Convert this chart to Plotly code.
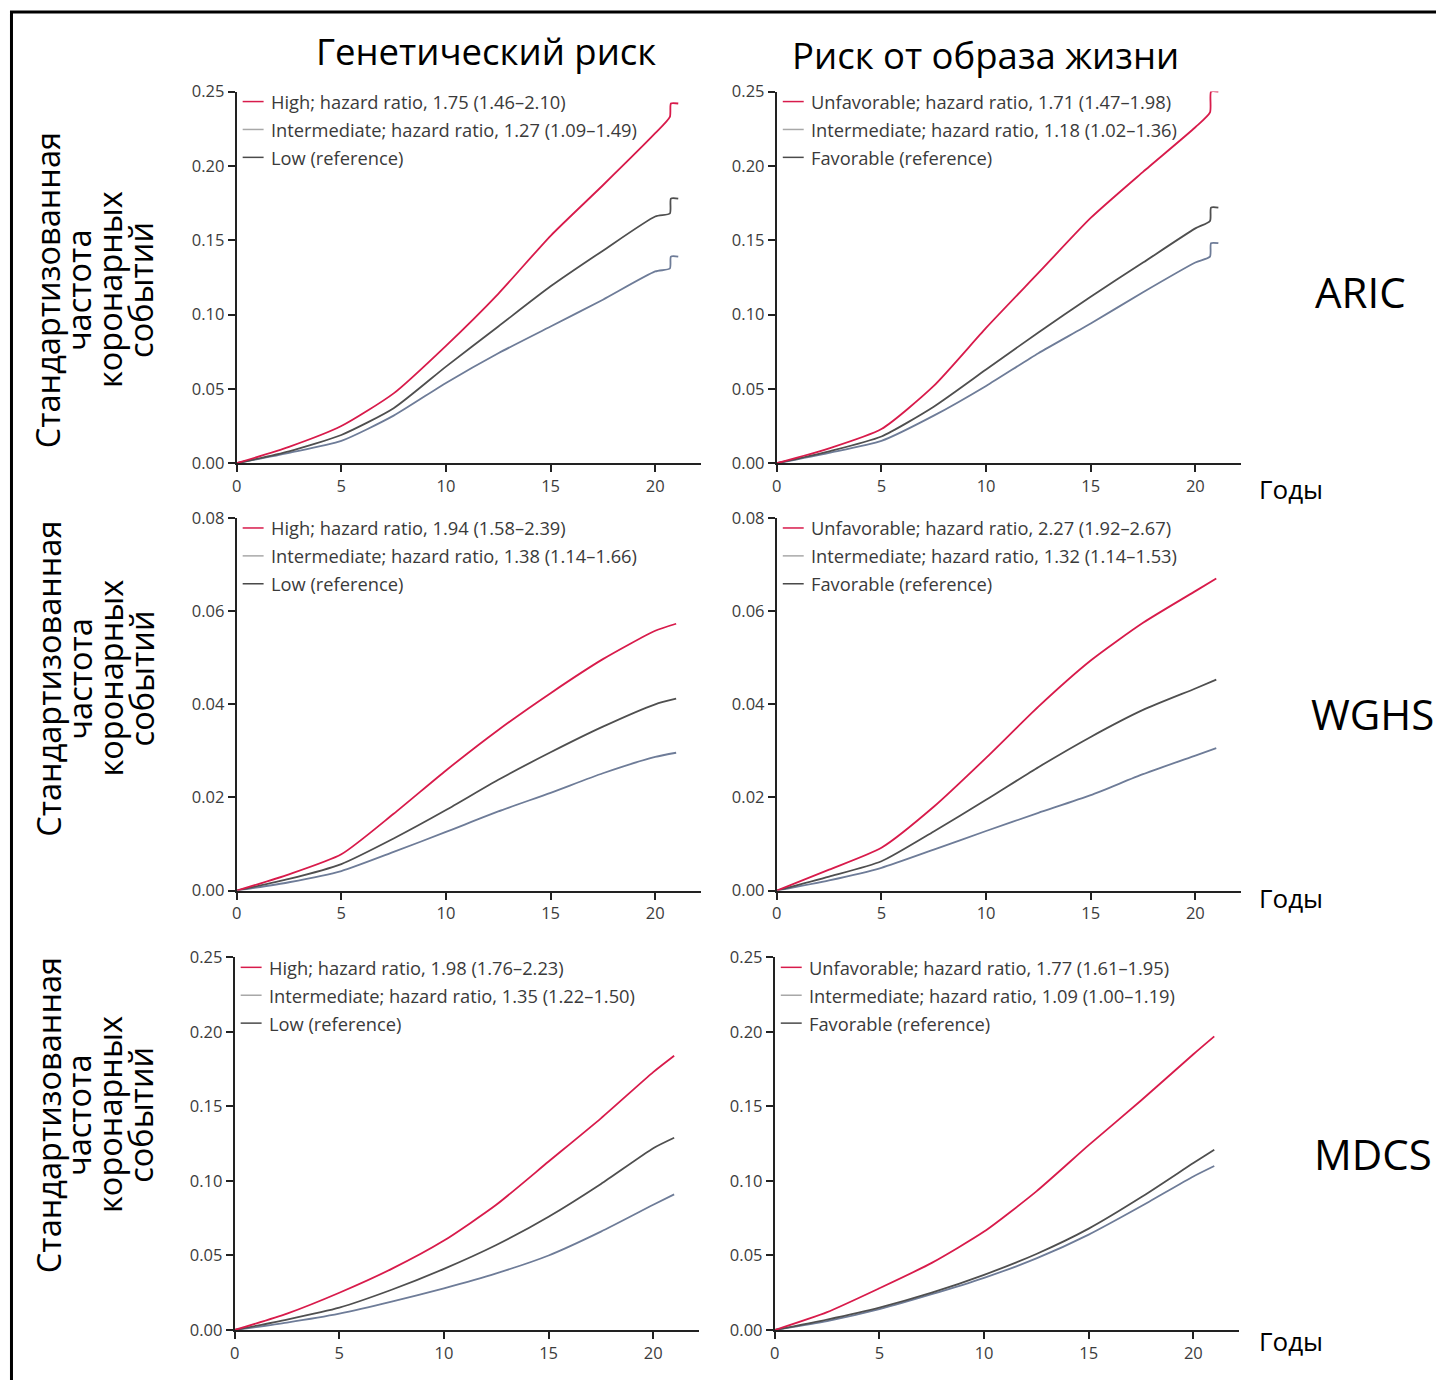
import plotly.graph_objects as go

# ---------------- DATA ----------------
T_MAIN = [0, 2.5, 5, 7.5, 10, 12.5, 15, 17.5, 20, 21]
T_ARIC = [0, 2.5, 5, 7.5, 10, 12.5, 15, 17.5, 20, 20.7, 20.75, 21.1]

# ARIC - genetic risk
aric_gen_high = [0, 0.011, 0.025, 0.047, 0.079, 0.114, 0.153, 0.187, 0.222, 0.233, 0.242, 0.242]
aric_gen_int = [0, 0.008, 0.019, 0.037, 0.065, 0.092, 0.119, 0.143, 0.166, 0.168, 0.178, 0.178]
aric_gen_low = [0, 0.007, 0.015, 0.032, 0.054, 0.074, 0.092, 0.110, 0.129, 0.131, 0.139, 0.139]
# ARIC - lifestyle
aric_life_unf = [0, 0.010, 0.023, 0.052, 0.091, 0.128, 0.165, 0.196, 0.226, 0.236, 0.250, 0.250]
aric_life_int = [0, 0.008, 0.018, 0.038, 0.063, 0.088, 0.112, 0.135, 0.158, 0.163, 0.172, 0.172]
aric_life_fav = [0, 0.007, 0.015, 0.032, 0.052, 0.074, 0.094, 0.115, 0.135, 0.139, 0.148, 0.148]
# WGHS - genetic risk
wghs_gen_high = [0, 0.0035, 0.0078, 0.0165, 0.0258, 0.0345, 0.0424, 0.0497, 0.0558, 0.0573]
wghs_gen_int = [0, 0.0025, 0.0057, 0.0112, 0.0173, 0.0238, 0.0297, 0.0352, 0.0400, 0.0412]
wghs_gen_low = [0, 0.0018, 0.0042, 0.0083, 0.0126, 0.0170, 0.0210, 0.0252, 0.0287, 0.0296]
# WGHS - lifestyle
wghs_life_unf = [0, 0.0045, 0.0092, 0.0180, 0.0285, 0.0395, 0.0494, 0.0575, 0.0643, 0.0670]
wghs_life_int = [0, 0.0030, 0.0063, 0.0127, 0.0195, 0.0265, 0.0330, 0.0388, 0.0434, 0.0453]
wghs_life_fav = [0, 0.0022, 0.0049, 0.0088, 0.0128, 0.0167, 0.0205, 0.0250, 0.0290, 0.0306]
# MDCS - genetic risk
mdcs_gen_high = [0, 0.011, 0.025, 0.041, 0.060, 0.084, 0.113, 0.142, 0.173, 0.184]
mdcs_gen_int = [0, 0.007, 0.015, 0.027, 0.041, 0.057, 0.076, 0.098, 0.122, 0.129]
mdcs_gen_low = [0, 0.005, 0.011, 0.019, 0.028, 0.038, 0.050, 0.066, 0.084, 0.091]
# MDCS - lifestyle
mdcs_life_unf = [0, 0.012, 0.028, 0.045, 0.066, 0.093, 0.124, 0.154, 0.185, 0.197]
mdcs_life_int = [0, 0.007, 0.015, 0.025, 0.037, 0.051, 0.068, 0.089, 0.112, 0.121]
mdcs_life_fav = [0, 0.006, 0.014, 0.024, 0.035, 0.048, 0.064, 0.083, 0.103, 0.110]

legend_gen_aric = ["High; hazard ratio, 1.75 (1.46–2.10)", "Intermediate; hazard ratio, 1.27 (1.09–1.49)", "Low (reference)"]
legend_life_aric = ["Unfavorable; hazard ratio, 1.71 (1.47–1.98)", "Intermediate; hazard ratio, 1.18 (1.02–1.36)", "Favorable (reference)"]
legend_gen_wghs = ["High; hazard ratio, 1.94 (1.58–2.39)", "Intermediate; hazard ratio, 1.38 (1.14–1.66)", "Low (reference)"]
legend_life_wghs = ["Unfavorable; hazard ratio, 2.27 (1.92–2.67)", "Intermediate; hazard ratio, 1.32 (1.14–1.53)", "Favorable (reference)"]
legend_gen_mdcs = ["High; hazard ratio, 1.98 (1.76–2.23)", "Intermediate; hazard ratio, 1.35 (1.22–1.50)", "Low (reference)"]
legend_life_mdcs = ["Unfavorable; hazard ratio, 1.77 (1.61–1.95)", "Intermediate; hazard ratio, 1.09 (1.00–1.19)", "Favorable (reference)"]

y_ticks_025 = [0, 0.05, 0.10, 0.15, 0.20, 0.25]
y_ticks_008 = [0, 0.02, 0.04, 0.06, 0.08]
x_ticks = [0, 5, 10, 15, 20]

col_titles = ["Генетический риск", "Риск от образа жизни"]
row_labels = ["ARIC", "WGHS", "MDCS"]
y_label_lines = ["Стандартизованная", "частота", "коронарных", "событий"]
x_label = "Годы"

# ---------------- LAYOUT ----------------
W, H = 1436, 1380
RED, INT, LOW = "#d81b4b", "#4f4f4f", "#6e7c98"
LEG_COLS = [RED, "#a8a8a8", "#4a4a4a"]
TICKFONT = dict(family="Open Sans", size=16.5, color="#3c3c3c")
LEGFONT = dict(family="Open Sans", size=18.3, color="#3a3a3a")

# pixel positions are given in target-picture pixels; compensate the capture offset
OFF_X, OFF_Y, SCALE_Y = 2.5, 9.1, 0.987


def px(x):
    return (x - OFF_X) / W


def py(y):
    return 1 - ((y - OFF_Y) / SCALE_Y) / H


panels = [
    (235, 462, 89, 0.25, y_ticks_025, T_ARIC, [aric_gen_high, aric_gen_int, aric_gen_low], legend_gen_aric),
    (777, 462, 89, 0.25, y_ticks_025, T_ARIC, [aric_life_unf, aric_life_int, aric_life_fav], legend_life_aric),
    (235, 891, 517, 0.08, y_ticks_008, T_MAIN, [wghs_gen_high, wghs_gen_int, wghs_gen_low], legend_gen_wghs),
    (777, 891, 517, 0.08, y_ticks_008, T_MAIN, [wghs_life_unf, wghs_life_int, wghs_life_fav], legend_life_wghs),
    (233, 1332, 958, 0.25, y_ticks_025, T_MAIN, [mdcs_gen_high, mdcs_gen_int, mdcs_gen_low], legend_gen_mdcs),
    (775, 1332, 958, 0.25, y_ticks_025, T_MAIN, [mdcs_life_unf, mdcs_life_int, mdcs_life_fav], legend_life_mdcs),
]

XMAX = 22.2
PX_PER_YEAR = 21.0

fig = go.Figure()
layout = dict(width=W, height=H, margin=dict(l=0, r=0, t=0, b=0),
              paper_bgcolor="white", plot_bgcolor="white", showlegend=False,
              autosize=False)
annotations = []
shapes = []

for i, (x0, yb, yt, ymax, yt_vals, times, series, legs) in enumerate(panels):
    n = i + 1
    xa = "xaxis" if n == 1 else f"xaxis{n}"
    ya = "yaxis" if n == 1 else f"yaxis{n}"
    xr = "x" if n == 1 else f"x{n}"
    yr = "y" if n == 1 else f"y{n}"
    x1 = x0 + XMAX * PX_PER_YEAR
    layout[xa] = dict(domain=[px(x0), px(x1)], range=[0, XMAX], anchor=yr,
                      tickvals=x_ticks, ticks="outside", ticklen=7, tickwidth=1.5,
                      tickcolor="#222", showline=True, linecolor="#222", linewidth=2,
                      showgrid=False, zeroline=False, tickfont=TICKFONT)
    fmt = [f"{v:.2f}" for v in yt_vals]
    layout[ya] = dict(domain=[py(yb), py(yt)], range=[0, ymax], anchor=xr,
                      tickvals=yt_vals, ticktext=fmt, ticks="outside", ticklen=7,
                      tickwidth=1.5, tickcolor="#222", showline=True, linecolor="#222",
                      linewidth=2, showgrid=False, zeroline=False, tickfont=TICKFONT)
    for vals, col in reversed(list(zip(series, [RED, INT, LOW]))):
        fig.add_trace(go.Scatter(x=times, y=vals, mode="lines", xaxis=xr, yaxis=yr,
                                 line=dict(color=col, width=1.8, shape="spline", smoothing=0.6),
                                 hoverinfo="skip"))
    ly0 = yt + 10
    for k, (lab, lc) in enumerate(zip(legs, LEG_COLS)):
        yy = ly0 + 28 * k
        shapes.append(dict(type="line", xref="paper", yref="paper",
                           x0=px(x0 + 6), x1=px(x0 + 27), y0=py(yy), y1=py(yy),
                           line=dict(color=lc, width=1.5)))
        annotations.append(dict(text=lab, xref="paper", yref="paper", x=px(x0 + 32), y=py(yy),
                                xanchor="left", yanchor="middle", showarrow=False, font=LEGFONT))

TITLEFONT = dict(family="Open Sans", size=36.5, color="black")
annotations.append(dict(text=col_titles[0], xref="paper", yref="paper", x=px(485), y=py(48),
                        xanchor="center", yanchor="middle", showarrow=False, font=TITLEFONT))
annotations.append(dict(text=col_titles[1], xref="paper", yref="paper", x=px(986), y=py(52),
                        xanchor="center", yanchor="middle", showarrow=False, font=TITLEFONT))

YLFONT = dict(family="Open Sans", size=32.5, color="black")
for cy in [288, 678, 1116]:
    for j, line in enumerate(y_label_lines):
        annotations.append(dict(text=line, xref="paper", yref="paper", x=px(46 + 31 * j), y=py(cy),
                                xanchor="center", yanchor="middle", textangle=-90,
                                showarrow=False, font=YLFONT))

RLFONT = dict(family="Open Sans", size=42, color="black")
for lab, lx, cy in zip(row_labels, [1315, 1311, 1314], [290, 713, 1155]):
    annotations.append(dict(text=lab, xref="paper", yref="paper", x=px(lx), y=py(cy),
                            xanchor="left", yanchor="middle", showarrow=False, font=RLFONT))

XLFONT = dict(family="Open Sans", size=26, color="black")
for cy in [488, 898, 1343]:
    annotations.append(dict(text=x_label, xref="paper", yref="paper", x=px(1259), y=py(cy),
                            xanchor="left", yanchor="middle", showarrow=False, font=XLFONT))

shapes.append(dict(type="rect", xref="paper", yref="paper", x0=px(9), x1=px(W + 30),
                   y0=py(H + 30), y1=py(9), line=dict(color="black", width=3),
                   fillcolor="rgba(0,0,0,0)", layer="above"))

layout["annotations"] = annotations
layout["shapes"] = shapes
fig.update_layout(**layout)

fig.write_html("out.html", config={"displayModeBar": False},
               post_script="document.body.style.margin='0';document.body.style.overflow='hidden';")
